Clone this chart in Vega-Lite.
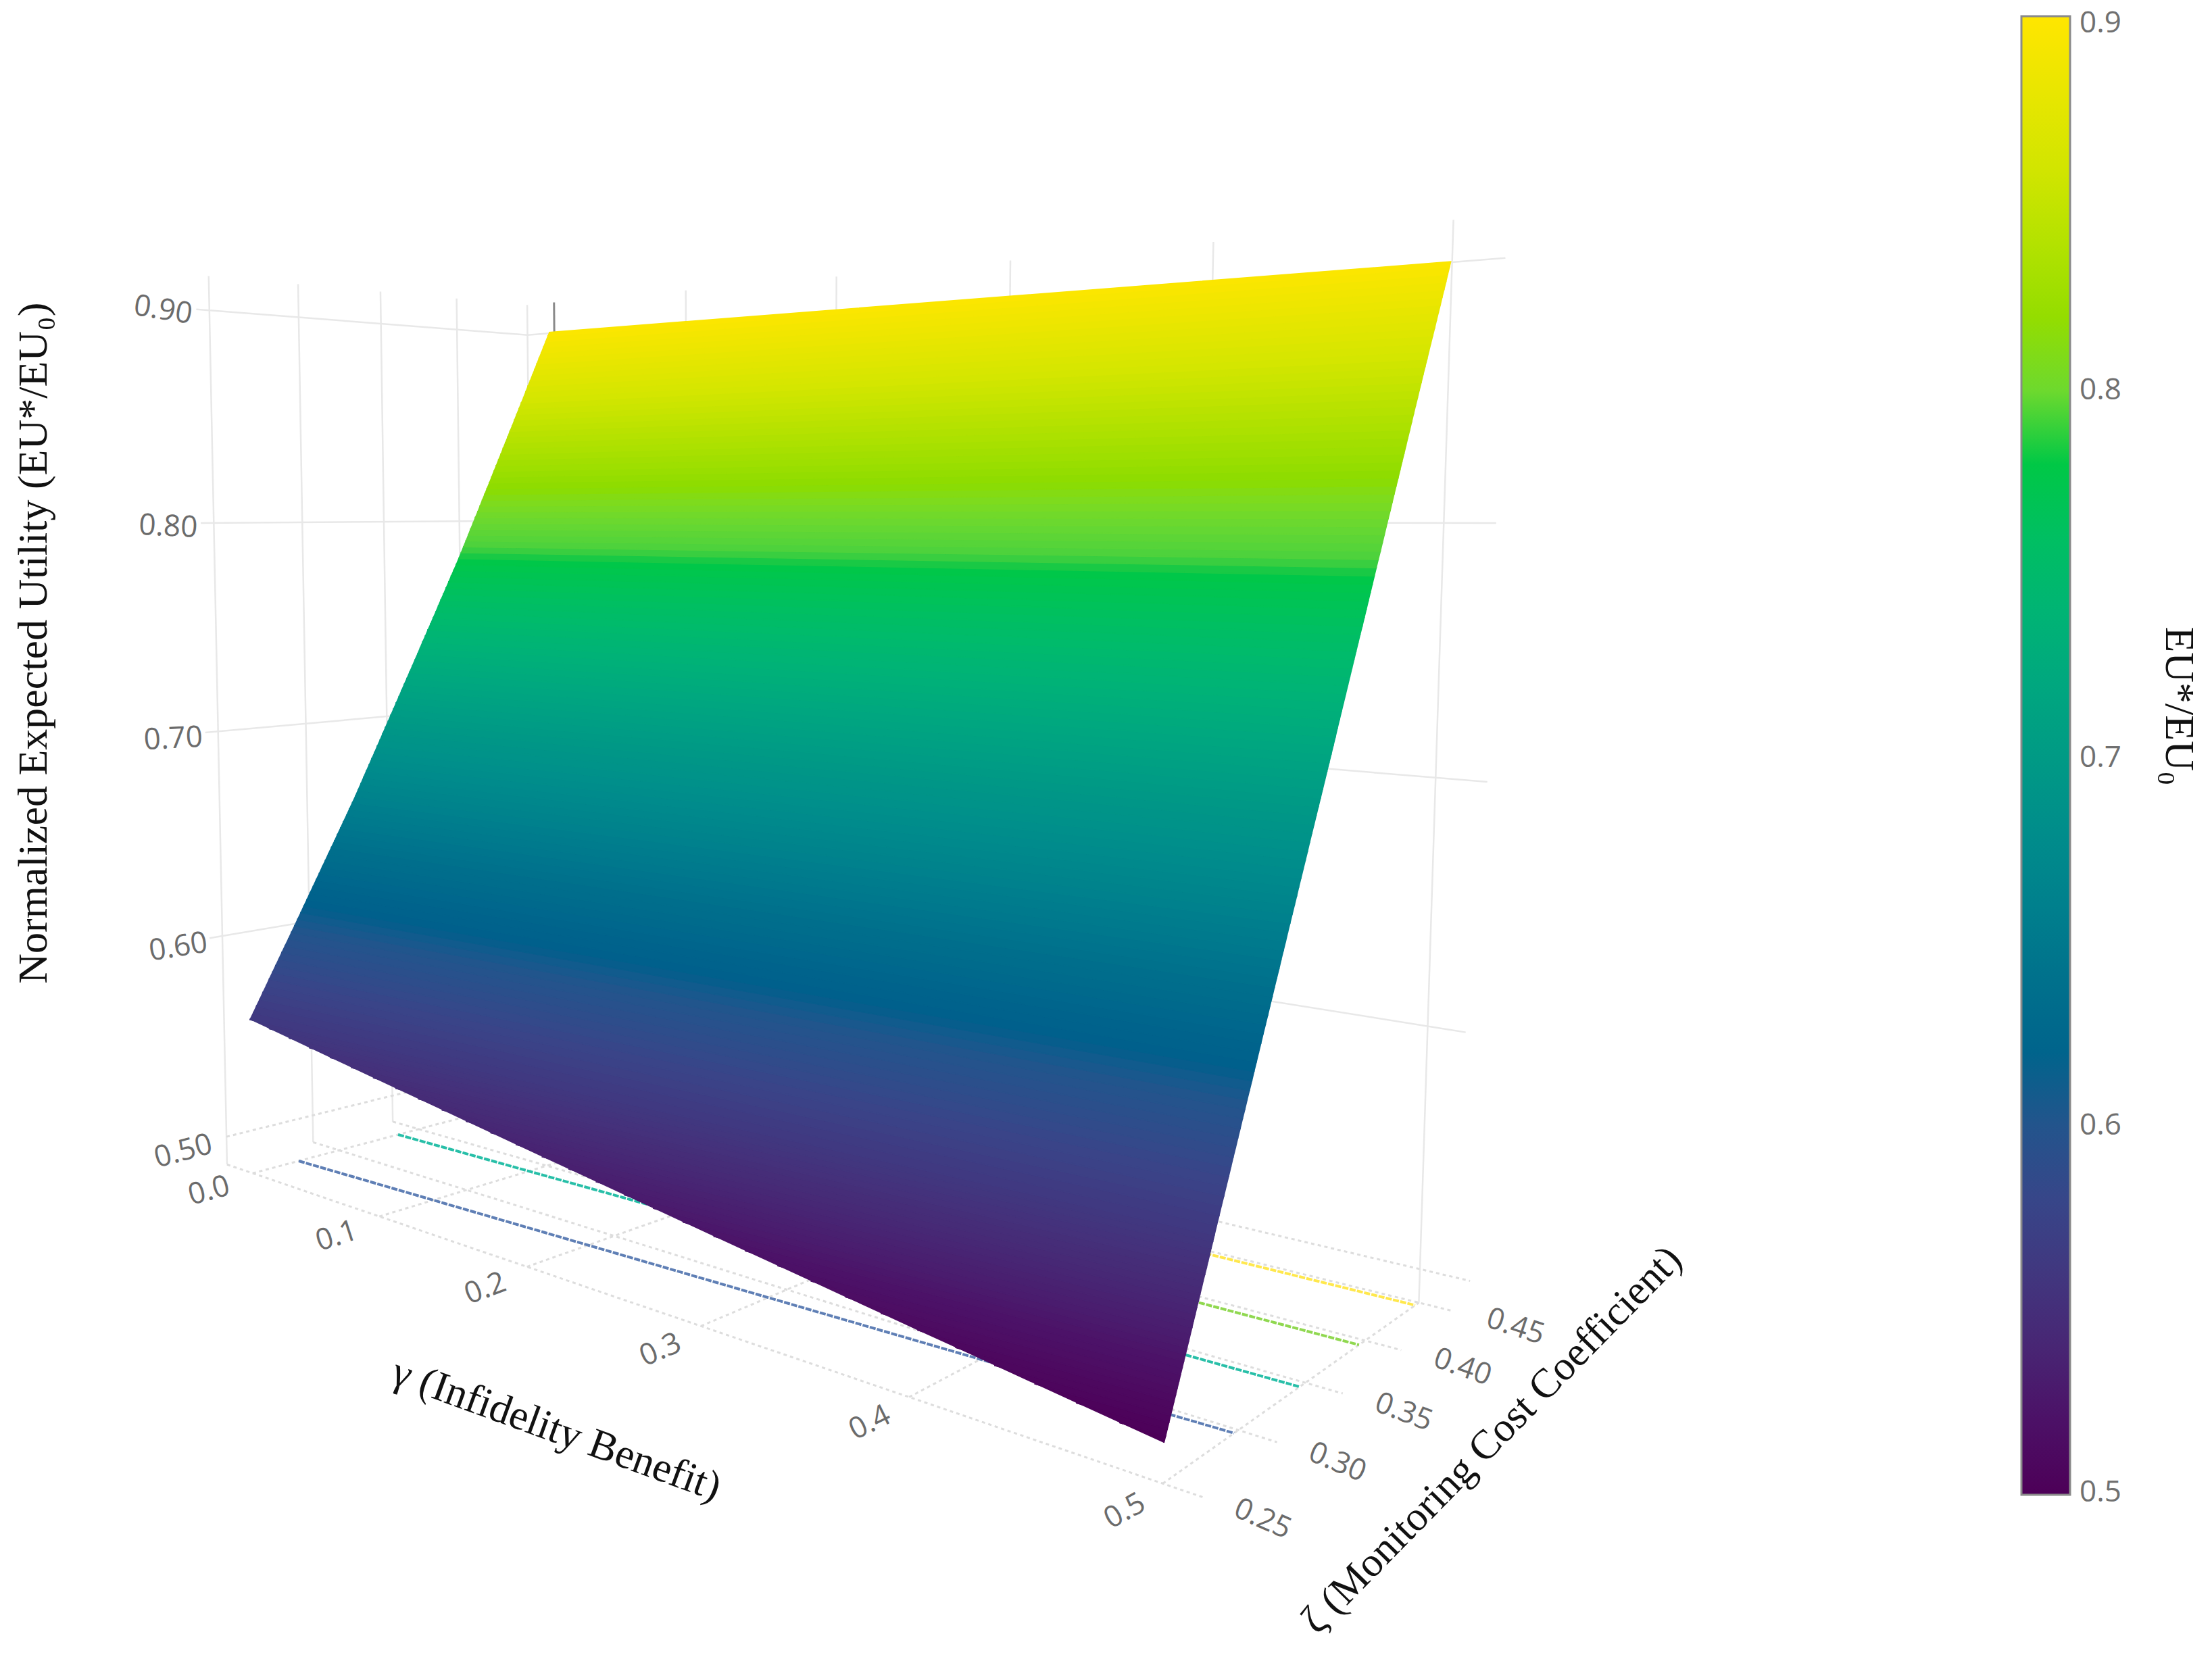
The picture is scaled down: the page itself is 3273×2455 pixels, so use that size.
{"$schema":"https://vega.github.io/schema/vega-lite/v6.json","width":3273,"height":2455,"padding":0,"autosize":{"type":"none"},"background":"white","config":{"view":{"stroke":null}},
"data":{"values":[
{"kind":"g","gamma0":-0.022,"zeta0":0.25,"eu":0.486,"gamma1":-0.022,"zeta1":0.25,"eu1":0.916},
{"kind":"g","gamma0":-0.022,"zeta0":0.3,"eu":0.486,"gamma1":-0.022,"zeta1":0.3,"eu1":0.916},
{"kind":"g","gamma0":-0.022,"zeta0":0.35,"eu":0.486,"gamma1":-0.022,"zeta1":0.35,"eu1":0.916},
{"kind":"g","gamma0":-0.022,"zeta0":0.4,"eu":0.486,"gamma1":-0.022,"zeta1":0.4,"eu1":0.916},
{"kind":"g","gamma0":-0.022,"zeta0":0.45,"eu":0.486,"gamma1":-0.022,"zeta1":0.45,"eu1":0.916},
{"kind":"g","gamma0":-0.022,"zeta0":0.243,"eu":0.6,"gamma1":-0.022,"zeta1":0.45,"eu1":0.6},
{"kind":"g","gamma0":-0.022,"zeta0":0.243,"eu":0.7,"gamma1":-0.022,"zeta1":0.45,"eu1":0.7},
{"kind":"g","gamma0":-0.022,"zeta0":0.243,"eu":0.8,"gamma1":-0.022,"zeta1":0.45,"eu1":0.8},
{"kind":"g","gamma0":-0.022,"zeta0":0.243,"eu":0.9,"gamma1":-0.022,"zeta1":0.45,"eu1":0.9},
{"kind":"g","gamma0":-0.022,"zeta0":0.45,"eu":0.6,"gamma1":0.515,"zeta1":0.45,"eu1":0.6},
{"kind":"g","gamma0":-0.022,"zeta0":0.45,"eu":0.7,"gamma1":0.52,"zeta1":0.45,"eu1":0.7},
{"kind":"g","gamma0":-0.022,"zeta0":0.45,"eu":0.8,"gamma1":0.52,"zeta1":0.45,"eu1":0.8},
{"kind":"g","gamma0":-0.022,"zeta0":0.45,"eu":0.9,"gamma1":0.52,"zeta1":0.45,"eu1":0.9},
{"kind":"g","gamma0":0.1,"zeta0":0.45,"eu":0.486,"gamma1":0.1,"zeta1":0.45,"eu1":0.916},
{"kind":"g","gamma0":0.2,"zeta0":0.45,"eu":0.486,"gamma1":0.2,"zeta1":0.45,"eu1":0.916},
{"kind":"g","gamma0":0.3,"zeta0":0.45,"eu":0.486,"gamma1":0.3,"zeta1":0.45,"eu1":0.916},
{"kind":"g","gamma0":0.4,"zeta0":0.45,"eu":0.486,"gamma1":0.4,"zeta1":0.45,"eu1":0.916},
{"kind":"g","gamma0":0.5,"zeta0":0.45,"eu":0.486,"gamma1":0.5,"zeta1":0.45,"eu1":0.916},
{"kind":"d","gamma0":0,"zeta0":0.45,"eu":0.89,"gamma1":0,"zeta1":0.45,"eu1":0.916},
{"kind":"f","gamma0":-0.022,"zeta0":0.25,"eu":0.5,"gamma1":-0.022,"zeta1":0.45,"eu1":0.5},
{"kind":"f","gamma0":-0.022,"zeta0":0.45,"eu":0.5,"gamma1":0.52,"zeta1":0.45,"eu1":0.5},
{"kind":"f","gamma0":-0.022,"zeta0":0.25,"eu":0.486,"gamma1":0.514,"zeta1":0.25,"eu1":0.486},
{"kind":"f","gamma0":-0.022,"zeta0":0.3,"eu":0.486,"gamma1":0.514,"zeta1":0.3,"eu1":0.486},
{"kind":"f","gamma0":-0.022,"zeta0":0.35,"eu":0.486,"gamma1":0.514,"zeta1":0.35,"eu1":0.486},
{"kind":"f","gamma0":-0.022,"zeta0":0.4,"eu":0.486,"gamma1":0.514,"zeta1":0.4,"eu1":0.486},
{"kind":"f","gamma0":-0.022,"zeta0":0.45,"eu":0.486,"gamma1":0.514,"zeta1":0.45,"eu1":0.486},
{"kind":"f","gamma0":0,"zeta0":0.25,"eu":0.486,"gamma1":0,"zeta1":0.45,"eu1":0.486},
{"kind":"f","gamma0":0.1,"zeta0":0.25,"eu":0.486,"gamma1":0.1,"zeta1":0.45,"eu1":0.486},
{"kind":"f","gamma0":0.2,"zeta0":0.25,"eu":0.486,"gamma1":0.2,"zeta1":0.45,"eu1":0.486},
{"kind":"f","gamma0":0.3,"zeta0":0.25,"eu":0.486,"gamma1":0.3,"zeta1":0.45,"eu1":0.486},
{"kind":"f","gamma0":0.4,"zeta0":0.25,"eu":0.486,"gamma1":0.4,"zeta1":0.45,"eu1":0.486},
{"kind":"f","gamma0":0.5,"zeta0":0.25,"eu":0.486,"gamma1":0.5,"zeta1":0.45,"eu1":0.486},
{"kind":"c","level":"0.6","gamma0":0,"zeta0":0.2762,"eu":0.486,"gamma1":0.5,"zeta1":0.297,"eu1":0.486},
{"kind":"c","level":"0.7","gamma0":0,"zeta0":0.3367,"eu":0.486,"gamma1":0.5,"zeta1":0.3455,"eu1":0.486},
{"kind":"c","level":"0.8","gamma0":0,"zeta0":0.3913,"eu":0.486,"gamma1":0.5,"zeta1":0.3946,"eu1":0.486},
{"kind":"c","level":"0.9","gamma0":0,"zeta0":0.446,"eu":0.486,"gamma1":0.5,"zeta1":0.4464,"eu1":0.486},
{"kind":"lg","label":"0.0","gamma0":0,"zeta0":0.25,"eu":0.486},
{"kind":"lg","label":"0.1","gamma0":0.1,"zeta0":0.25,"eu":0.486},
{"kind":"lg","label":"0.2","gamma0":0.2,"zeta0":0.25,"eu":0.486},
{"kind":"lg","label":"0.3","gamma0":0.3,"zeta0":0.25,"eu":0.486},
{"kind":"lg","label":"0.4","gamma0":0.4,"zeta0":0.25,"eu":0.486},
{"kind":"lg","label":"0.5","gamma0":0.5,"zeta0":0.25,"eu":0.486},
{"kind":"lz","label":"0.25","gamma0":0.514,"zeta0":0.25,"eu":0.486},
{"kind":"lz","label":"0.30","gamma0":0.514,"zeta0":0.3,"eu":0.486},
{"kind":"lz","label":"0.35","gamma0":0.514,"zeta0":0.35,"eu":0.486},
{"kind":"lz","label":"0.40","gamma0":0.514,"zeta0":0.4,"eu":0.486},
{"kind":"lz","label":"0.45","gamma0":0.514,"zeta0":0.45,"eu":0.486},
{"kind":"le","label":"0.50","gamma0":-0.022,"zeta0":0.228,"eu":0.5},
{"kind":"le","label":"0.60","gamma0":-0.022,"zeta0":0.228,"eu":0.6},
{"kind":"le","label":"0.70","gamma0":-0.022,"zeta0":0.228,"eu":0.7},
{"kind":"le","label":"0.80","gamma0":-0.022,"zeta0":0.228,"eu":0.8},
{"kind":"le","label":"0.90","gamma0":-0.022,"zeta0":0.228,"eu":0.9},
{"kind":"t1","label":"Normalized Expected Utility (EU*/EU₀)","gamma0":-0.022,"zeta0":0.1585,"eu":0.747},
{"kind":"t2","label":"γ (Infidelity Benefit)","gamma0":0.3286,"zeta0":0.1496,"eu":0.486},
{"kind":"t3","label":"ζ (Monitoring Cost Coefficient)","gamma0":0.5675,"zeta0":0.347,"eu":0.486},
{"kind":"t4","label":"EU*/EU₀","gamma0":0.6885,"zeta0":1.006,"eu":0.7},
{"eu":0.5,"gamma0":0.5,"zeta0":0.25,"zeta1":0.25},{"eu":0.502,"gamma0":0.4839,"zeta0":0.25,"zeta1":0.251},{"eu":0.504,"gamma0":0.4677,"zeta0":0.25,"zeta1":0.2519},{"eu":0.506,"gamma0":0.4516,"zeta0":0.25,"zeta1":0.2529},{"eu":0.508,"gamma0":0.4355,"zeta0":0.25,"zeta1":0.2538},
{"eu":0.51,"gamma0":0.4194,"zeta0":0.25,"zeta1":0.2548},{"eu":0.512,"gamma0":0.4032,"zeta0":0.25,"zeta1":0.2557},{"eu":0.514,"gamma0":0.3871,"zeta0":0.25,"zeta1":0.2567},{"eu":0.516,"gamma0":0.371,"zeta0":0.25,"zeta1":0.2576},{"eu":0.518,"gamma0":0.3548,"zeta0":0.25,"zeta1":0.2586},
{"eu":0.52,"gamma0":0.3387,"zeta0":0.25,"zeta1":0.2595},{"eu":0.522,"gamma0":0.3226,"zeta0":0.25,"zeta1":0.2605},{"eu":0.524,"gamma0":0.3065,"zeta0":0.25,"zeta1":0.2614},{"eu":0.526,"gamma0":0.2903,"zeta0":0.25,"zeta1":0.2624},{"eu":0.528,"gamma0":0.2742,"zeta0":0.25,"zeta1":0.2633},
{"eu":0.53,"gamma0":0.2581,"zeta0":0.25,"zeta1":0.2643},{"eu":0.532,"gamma0":0.2419,"zeta0":0.25,"zeta1":0.2652},{"eu":0.534,"gamma0":0.2258,"zeta0":0.25,"zeta1":0.2662},{"eu":0.536,"gamma0":0.2097,"zeta0":0.25,"zeta1":0.2671},{"eu":0.538,"gamma0":0.1935,"zeta0":0.25,"zeta1":0.2681},
{"eu":0.54,"gamma0":0.1774,"zeta0":0.25,"zeta1":0.269},{"eu":0.542,"gamma0":0.1613,"zeta0":0.25,"zeta1":0.27},{"eu":0.544,"gamma0":0.1452,"zeta0":0.25,"zeta1":0.2709},{"eu":0.546,"gamma0":0.129,"zeta0":0.25,"zeta1":0.2719},{"eu":0.548,"gamma0":0.1129,"zeta0":0.25,"zeta1":0.2728},
{"eu":0.55,"gamma0":0.0968,"zeta0":0.25,"zeta1":0.2738},{"eu":0.552,"gamma0":0.0806,"zeta0":0.25,"zeta1":0.2748},{"eu":0.554,"gamma0":0.0645,"zeta0":0.25,"zeta1":0.2757},{"eu":0.556,"gamma0":0.0484,"zeta0":0.25,"zeta1":0.2767},{"eu":0.558,"gamma0":0.0323,"zeta0":0.25,"zeta1":0.2776},{"eu":0.56,"gamma0":0.0161,"zeta0":0.25,"zeta1":0.2786},
{"eu":0.562,"zeta0":0.25,"zeta1":0.2795},{"eu":0.565,"zeta0":0.2519,"zeta1":0.2809},{"eu":0.568,"zeta0":0.2537,"zeta1":0.2824},{"eu":0.571,"zeta0":0.2556,"zeta1":0.2838},{"eu":0.574,"zeta0":0.2574,"zeta1":0.2853},{"eu":0.577,"zeta0":0.2593,"zeta1":0.2867},{"eu":0.58,"zeta0":0.2611,"zeta1":0.2882},{"eu":0.583,"zeta0":0.263,"zeta1":0.2896},{"eu":0.586,"zeta0":0.2648,"zeta1":0.291},{"eu":0.589,"zeta0":0.2667,"zeta1":0.2925},
{"eu":0.592,"zeta0":0.2685,"zeta1":0.2939},{"eu":0.595,"zeta0":0.2704,"zeta1":0.2954},{"eu":0.598,"zeta0":0.2723,"zeta1":0.2968},{"eu":0.601,"zeta0":0.2741,"zeta1":0.2983},{"eu":0.604,"zeta0":0.276,"zeta1":0.2997},{"eu":0.607,"zeta0":0.2778,"zeta1":0.3012},{"eu":0.61,"zeta0":0.2797,"zeta1":0.3027},{"eu":0.613,"zeta0":0.2815,"zeta1":0.3041},{"eu":0.616,"zeta0":0.2834,"zeta1":0.3056},{"eu":0.619,"zeta0":0.2852,"zeta1":0.307},
{"eu":0.622,"zeta0":0.2871,"zeta1":0.3085},{"eu":0.625,"zeta0":0.2889,"zeta1":0.3099},{"eu":0.628,"zeta0":0.2908,"zeta1":0.3114},{"eu":0.631,"zeta0":0.2926,"zeta1":0.3129},{"eu":0.634,"zeta0":0.2945,"zeta1":0.3143},{"eu":0.637,"zeta0":0.2963,"zeta1":0.3158},{"eu":0.64,"zeta0":0.2982,"zeta1":0.3172},{"eu":0.643,"zeta0":0.3001,"zeta1":0.3187},{"eu":0.646,"zeta0":0.3019,"zeta1":0.3202},{"eu":0.649,"zeta0":0.3038,"zeta1":0.3216},
{"eu":0.652,"zeta0":0.3056,"zeta1":0.3231},{"eu":0.655,"zeta0":0.3075,"zeta1":0.3246},{"eu":0.658,"zeta0":0.3093,"zeta1":0.326},{"eu":0.661,"zeta0":0.3112,"zeta1":0.3275},{"eu":0.664,"zeta0":0.313,"zeta1":0.329},{"eu":0.667,"zeta0":0.3147,"zeta1":0.3305},{"eu":0.67,"zeta0":0.3165,"zeta1":0.332},{"eu":0.673,"zeta0":0.3182,"zeta1":0.3334},{"eu":0.676,"zeta0":0.3199,"zeta1":0.3349},{"eu":0.679,"zeta0":0.3217,"zeta1":0.3364},
{"eu":0.682,"zeta0":0.3234,"zeta1":0.3379},{"eu":0.685,"zeta0":0.3252,"zeta1":0.3394},{"eu":0.688,"zeta0":0.3269,"zeta1":0.3408},{"eu":0.691,"zeta0":0.3287,"zeta1":0.3423},{"eu":0.694,"zeta0":0.3304,"zeta1":0.3438},{"eu":0.697,"zeta0":0.3321,"zeta1":0.3453},{"eu":0.7,"zeta0":0.3339,"zeta1":0.3468},{"eu":0.703,"zeta0":0.3356,"zeta1":0.3483},{"eu":0.706,"zeta0":0.3374,"zeta1":0.3498},{"eu":0.709,"zeta0":0.3391,"zeta1":0.3513},
{"eu":0.712,"zeta0":0.3409,"zeta1":0.3528},{"eu":0.715,"zeta0":0.3426,"zeta1":0.3543},{"eu":0.718,"zeta0":0.3443,"zeta1":0.3558},{"eu":0.721,"zeta0":0.3461,"zeta1":0.3573},{"eu":0.724,"zeta0":0.3478,"zeta1":0.3588},{"eu":0.727,"zeta0":0.3496,"zeta1":0.3602},{"eu":0.73,"zeta0":0.3513,"zeta1":0.3617},{"eu":0.733,"zeta0":0.3531,"zeta1":0.3632},{"eu":0.736,"zeta0":0.3548,"zeta1":0.3647},{"eu":0.739,"zeta0":0.3565,"zeta1":0.3662},
{"eu":0.742,"zeta0":0.3583,"zeta1":0.3677},{"eu":0.745,"zeta0":0.36,"zeta1":0.3692},{"eu":0.748,"zeta0":0.3618,"zeta1":0.3707},{"eu":0.751,"zeta0":0.3635,"zeta1":0.3722},{"eu":0.754,"zeta0":0.3653,"zeta1":0.3737},{"eu":0.757,"zeta0":0.367,"zeta1":0.3752},{"eu":0.76,"zeta0":0.3687,"zeta1":0.3767},{"eu":0.763,"zeta0":0.3705,"zeta1":0.3783},{"eu":0.766,"zeta0":0.3722,"zeta1":0.3798},{"eu":0.769,"zeta0":0.374,"zeta1":0.3813},
{"eu":0.772,"zeta0":0.3757,"zeta1":0.3828},{"eu":0.775,"zeta0":0.3775,"zeta1":0.3843},{"eu":0.778,"zeta0":0.3792,"zeta1":0.3858},{"eu":0.781,"zeta0":0.3809,"zeta1":0.3873},{"eu":0.784,"zeta0":0.3826,"zeta1":0.3888},{"eu":0.787,"zeta0":0.3842,"zeta1":0.3903},{"eu":0.79,"zeta0":0.3859,"zeta1":0.3919},{"eu":0.793,"zeta0":0.3875,"zeta1":0.3934},{"eu":0.796,"zeta0":0.3891,"zeta1":0.3949},{"eu":0.799,"zeta0":0.3908,"zeta1":0.3964},
{"eu":0.802,"zeta0":0.3924,"zeta1":0.3979},{"eu":0.805,"zeta0":0.3941,"zeta1":0.3995},{"eu":0.808,"zeta0":0.3957,"zeta1":0.401},{"eu":0.811,"zeta0":0.3973,"zeta1":0.4025},{"eu":0.814,"zeta0":0.399,"zeta1":0.404},{"eu":0.817,"zeta0":0.4006,"zeta1":0.4056},{"eu":0.82,"zeta0":0.4023,"zeta1":0.4071},{"eu":0.823,"zeta0":0.4039,"zeta1":0.4086},{"eu":0.826,"zeta0":0.4055,"zeta1":0.4102},{"eu":0.829,"zeta0":0.4072,"zeta1":0.4117},
{"eu":0.832,"zeta0":0.4088,"zeta1":0.4132},{"eu":0.835,"zeta0":0.4105,"zeta1":0.4148},{"eu":0.838,"zeta0":0.4121,"zeta1":0.4163},{"eu":0.841,"zeta0":0.4137,"zeta1":0.4178},{"eu":0.844,"zeta0":0.4154,"zeta1":0.4193},{"eu":0.847,"zeta0":0.417,"zeta1":0.4209},{"eu":0.85,"zeta0":0.4187,"zeta1":0.4224},{"eu":0.853,"zeta0":0.4203,"zeta1":0.424},{"eu":0.856,"zeta0":0.4219,"zeta1":0.4255},{"eu":0.859,"zeta0":0.4236,"zeta1":0.4271},
{"eu":0.862,"zeta0":0.4252,"zeta1":0.4287},{"eu":0.865,"zeta0":0.4269,"zeta1":0.4302},{"eu":0.868,"zeta0":0.4285,"zeta1":0.4318},{"eu":0.871,"zeta0":0.4301,"zeta1":0.4334},{"eu":0.874,"zeta0":0.4318,"zeta1":0.435},{"eu":0.877,"zeta0":0.4334,"zeta1":0.4365},{"eu":0.88,"zeta0":0.4351,"zeta1":0.4381},{"eu":0.883,"zeta0":0.4367,"zeta1":0.4397},{"eu":0.886,"zeta0":0.4383,"zeta1":0.4412},{"eu":0.889,"zeta0":0.44,"zeta1":0.4428},
{"eu":0.892,"zeta0":0.4416,"zeta1":0.4444},{"eu":0.895,"zeta0":0.4433,"zeta1":0.4459},{"eu":0.898,"zeta0":0.4449,"zeta1":0.4475},{"eu":0.9,"zeta0":0.446,"zeta1":0.4485}
]},
"transform":[
{"calculate":"isValid(datum.gamma0)?datum.gamma0:0","as":"ga"},
{"calculate":"isValid(datum.gamma1)?datum.gamma1:0.5","as":"gb"},
{"calculate":"isValid(datum.zeta1)?datum.zeta1:datum.zeta0","as":"zb"},
{"calculate":"isValid(datum.eu1)?datum.eu1:datum.eu","as":"eb"},
{"calculate":"(datum.ga+0.015)/0.515","as":"g0"},
{"calculate":"(datum.zeta0-0.25)/0.2","as":"h0"},
{"calculate":"(datum.eu-0.5)/0.4","as":"w0"},
{"calculate":"(datum.gb+0.015)/0.515","as":"g1"},
{"calculate":"(datum.zb-0.25)/0.2","as":"h1"},
{"calculate":"(datum.eb-0.5)/0.4","as":"w1"},
{"calculate":"1-0.36*datum.g0+0.165*datum.h0-0.0374*datum.w0","as":"d0"},
{"calculate":"1-0.36*datum.g1+0.165*datum.h1-0.0374*datum.w1","as":"d1"},
{"calculate":"(347+755.1*datum.g0+589.2*datum.h0+datum.w0*(-37-5*datum.h0))/datum.d0","as":"px0"},
{"calculate":"(1686-319.6*datum.g0+145.4*datum.h0+datum.w0*(-1245.1-28.5*datum.h0+59.6*datum.g0))/datum.d0","as":"py0"},
{"calculate":"(347+755.1*datum.g1+589.2*datum.h1+datum.w1*(-37-5*datum.h1))/datum.d1","as":"px1"},
{"calculate":"(1686-319.6*datum.g1+145.4*datum.h1+datum.w1*(-1245.1-28.5*datum.h1+59.6*datum.g1))/datum.d1","as":"py1"}
],
"encoding":{
"x":{"field":"px0","type":"quantitative","scale":{"domain":[0,3273],"range":[0,3273],"nice":false,"zero":false},"axis":null},
"y":{"field":"py0","type":"quantitative","scale":{"domain":[0,2455],"range":[0,2455],"nice":false,"zero":false},"axis":null}
},
"resolve":{"scale":{"angle":"independent"}},
"layer":[
{"transform":[{"filter":"datum.kind=='g'"}],"mark":{"type":"rule","color":"#e8e8e8","strokeWidth":2.5},"encoding":{"x2":{"field":"px1"},"y2":{"field":"py1"}}},
{"transform":[{"filter":"datum.kind=='d'"}],"mark":{"type":"rule","color":"#8a8a8a","strokeWidth":3},"encoding":{"x2":{"field":"px1"},"y2":{"field":"py1"}}},
{"transform":[{"filter":"datum.kind=='f'"}],"mark":{"type":"rule","color":"#dddddd","strokeWidth":3,"strokeDash":[5,5]},"encoding":{"x2":{"field":"px1"},"y2":{"field":"py1"}}},
{"transform":[{"filter":"datum.kind=='c'"}],"mark":{"type":"rule","strokeWidth":4,"strokeDash":[9,2]},"encoding":{"x2":{"field":"px1"},"y2":{"field":"py1"},"stroke":{"field":"level","type":"nominal","scale":{"domain":["0.6","0.7","0.8","0.9"],"range":["#5f7fb5","#28bfa8","#90d850","#ffe84d"]},"legend":null}}},
{"transform":[{"filter":"!datum.kind"},
{"window":[{"op":"lead","field":"px0","as":"nx0"},{"op":"lead","field":"py0","as":"ny0"},{"op":"lead","field":"px1","as":"nx1"},{"op":"lead","field":"py1","as":"ny1"}],"sort":[{"field":"eu","order":"ascending"}]},
{"filter":"isValid(datum.nx0)"},
{"calculate":"[datum.px0,datum.px1,datum.nx1,datum.nx0]","as":"vx"},
{"calculate":"[datum.py0,datum.py1,datum.ny1,datum.ny0]","as":"vy"},
{"calculate":"[0,1,2,3]","as":"vi"},
{"flatten":["vx","vy","vi"],"as":["sx","sy","si"]}],
"mark":{"type":"line","filled":true,"strokeWidth":2,"interpolate":"linear"},"encoding":{
"x":{"field":"sx","type":"quantitative","scale":{"domain":[0,3273],"range":[0,3273],"nice":false,"zero":false},"axis":null},
"y":{"field":"sy","type":"quantitative","scale":{"domain":[0,2455],"range":[0,2455],"nice":false,"zero":false},"axis":null},
"order":{"field":"si","type":"quantitative"},"detail":{"field":"eu","type":"nominal"},
"stroke":{"field":"eu","type":"quantitative","scale":{"domain":[0.4995,0.522,0.551,0.577,0.6,0.612,0.638,0.667,0.7,0.748,0.78,0.787,0.8,0.815,0.863,0.902],"range":["#4d0058","#4c1268","#45307a","#3a4488","#23548c","#005f8c","#006f8c","#00858c","#009a85","#00b96e","#00c846","#4ed23c","#6dd92e","#8cdc00","#d5e600","#ffe600"]},"legend":null},
"color":{"field":"eu","type":"quantitative","scale":{"domain":[0.4995,0.522,0.551,0.577,0.6,0.612,0.638,0.667,0.7,0.748,0.78,0.787,0.8,0.815,0.863,0.902],"range":["#4d0058","#4c1268","#45307a","#3a4488","#23548c","#005f8c","#006f8c","#00858c","#009a85","#00b96e","#00c846","#4ed23c","#6dd92e","#8cdc00","#d5e600","#ffe600"]},
"legend":{"title":null,"orient":"none","legendX":2991,"legendY":24,"direction":"vertical","gradientLength":2188,"gradientThickness":72,"gradientStrokeColor":"#8a8a8a","gradientStrokeWidth":3,"values":[0.5,0.6,0.7,0.8,0.9],"format":".1f","labelFont":"Open Sans","labelFontSize":44,"labelColor":"#707070","labelOffset":14,"labelOverlap":false}}}},
{"transform":[{"filter":"datum.kind=='lg'"}],"mark":{"type":"text","font":"Open Sans","fontSize":44,"color":"#6b6b6b","dx":-69,"dy":9},"encoding":{"text":{"field":"label"},"angle":{"field":"ga","type":"quantitative","scale":{"domain":[0,0.5],"range":[345,331]},"legend":null}}},
{"transform":[{"filter":"datum.kind=='lz'"}],"mark":{"type":"text","font":"Open Sans","fontSize":44,"color":"#6b6b6b","dx":94,"dy":-6},"encoding":{"text":{"field":"label"},"angle":{"field":"zeta0","type":"quantitative","scale":{"domain":[0.25,0.45],"range":[24,18]},"legend":null}}},
{"transform":[{"filter":"datum.kind=='le'"}],"mark":{"type":"text","font":"Open Sans","fontSize":44,"color":"#6b6b6b","dx":-6,"dy":6},"encoding":{"text":{"field":"label"},"angle":{"field":"eu","type":"quantitative","scale":{"domain":[0.5,0.9],"range":[-15,9]},"legend":null}}},
{"transform":[{"filter":"datum.kind=='t1'"}],"mark":{"type":"text","font":"Liberation Serif","fontSize":62,"color":"#111111","angle":270},"encoding":{"text":{"field":"label"}}},
{"transform":[{"filter":"datum.kind=='t2'"}],"mark":{"type":"text","font":"Liberation Serif","fontSize":62,"color":"#111111","angle":20,"dy":-10},"encoding":{"text":{"field":"label"}}},
{"transform":[{"filter":"datum.kind=='t3'"}],"mark":{"type":"text","font":"Liberation Serif","fontSize":61,"color":"#111111","angle":314.4},"encoding":{"text":{"field":"label"}}},
{"transform":[{"filter":"datum.kind=='t4'"}],"mark":{"type":"text","font":"Liberation Serif","fontSize":62,"color":"#111111","angle":90,"dy":-10},"encoding":{"text":{"field":"label"}}}
]}
